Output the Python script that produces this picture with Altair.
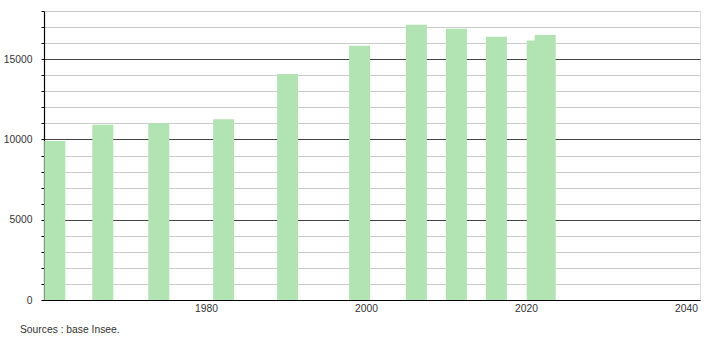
import altair as alt
import pandas as pd

# Census years as placed on the time axis
years = [1961.1, 1967.1, 1974.1, 1982.2, 1990.2, 1999.2, 2006.3, 2011.3, 2016.3, 2021.4, 2022.4]
population = [9910, 10910, 11010, 11265, 14070, 15835, 17145, 16895, 16400, 16165, 16500]

x_ticks = [1980, 2000, 2020, 2040]
y_ticks = list(range(0, 18001, 1000))

df = pd.DataFrame({"year": years, "pop": population})

FS = 10.3

bars = alt.Chart(df).mark_bar(size=21, color="#b2e3b2", clip=True).encode(
    x=alt.X(
        "year:Q",
        scale=alt.Scale(domain=[1959.75, 2041.75], nice=False, zero=False, padding=0),
        axis=alt.Axis(
            values=x_ticks, format="d", title=None, grid=False, ticks=False,
            labelPadding=3, labelFontSize=FS, labelColor="#333", labelFont="Liberation Sans",
            domainColor="#000", domainWidth=1.2, labelFlush=False,
        ),
    ),
    y=alt.Y(
        "pop:Q",
        scale=alt.Scale(domain=[0, 18000], nice=False),
        axis=alt.Axis(
            values=y_ticks, title=None, grid=True,
            gridColor={"condition": {"test": "datum.value % 5000 === 0 && datum.value > 0", "value": "#444"}, "value": "#cccccc"},
            labelExpr="datum.value % 5000 === 0 ? format(datum.value, 'd') : ''",
            tickSize=3, tickColor="#000", labelPadding=9,
            labelFontSize=FS, labelColor="#333", labelFont="Liberation Sans",
            domainColor="#000", domainWidth=1.2,
        ),
    ),
)

chart = bars.properties(
    width=656,
    height=289,
    title=alt.TitleParams(
        "Sources : base Insee.", orient="bottom", anchor="start", frame="group",
        dx=-24, offset=12, fontSize=FS, fontWeight="normal", color="#333",
        font="Liberation Sans",
    ),
    padding={"left": 44, "top": 11, "right": 10, "bottom": 40},
    autosize=alt.AutoSizeParams(type="none"),
).configure_view(stroke=None).configure(background="white")

chart.save("out.html", embed_options={"renderer": "svg", "actions": False})
